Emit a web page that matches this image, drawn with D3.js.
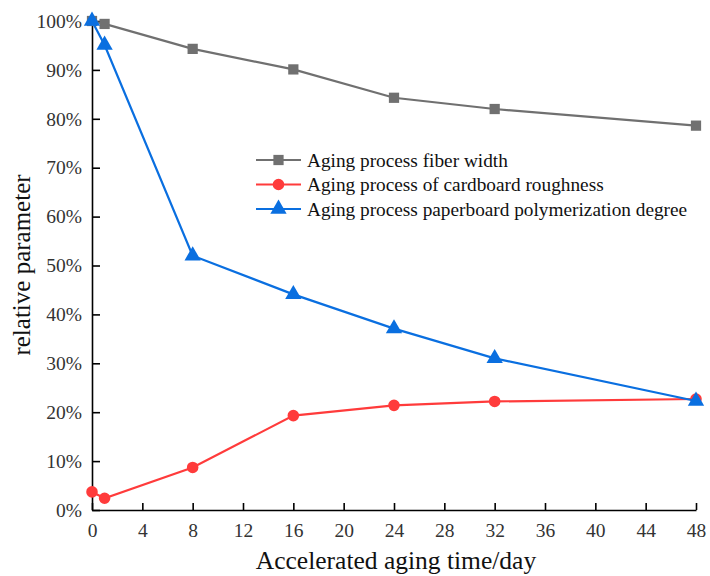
<!DOCTYPE html>
<html>
<head>
<meta charset="utf-8">
<script src="https://cdn.jsdelivr.net/npm/d3@7"></script>
<style>
  body { margin: 0; background: #fff; }
  text { font-family: "Liberation Serif", "Times New Roman", serif; }
</style>
</head>
<body>
<script>
// chart data
var days = [0, 1, 8, 16, 24, 32, 48];
var fiberWidth = [100, 99.4, 94.3, 90.1, 84.3, 82.0, 78.6];
var roughness = [3.7, 2.4, 8.7, 19.3, 21.4, 22.2, 22.7];
var polymerization = [100, 95.1, 52.0, 44.1, 37.1, 31.0, 22.3];
var seriesNames = [
  "Aging process fiber width",
  "Aging process of cardboard roughness",
  "Aging process paperboard polymerization degree"
];
var xTicks = [0, 4, 8, 12, 16, 20, 24, 28, 32, 36, 40, 44, 48];
var yTicks = [0, 10, 20, 30, 40, 50, 60, 70, 80, 90, 100];

var svgWidth = 710;
var svgHeight = 576;

var margin = { top: 21, right: 14, bottom: 66, left: 92 };
var chartWidth = 696 - margin.left;
var chartHeight = 510 - margin.top;

var svg = d3.select("body")
  .append("svg")
  .attr("width", svgWidth)
  .attr("height", svgHeight);

var chartGroup = svg.append("g")
  .attr("transform", `translate(${margin.left}, ${margin.top})`);

var xScale = d3.scaleLinear().domain([0, 48]).range([0, chartWidth]);
var yScale = d3.scaleLinear().domain([0, 100]).range([chartHeight, 0]);

// axes, ticks point inwards
var bottomAxis = d3.axisBottom(xScale).tickValues(xTicks).tickSizeInner(-7).tickSizeOuter(0).tickPadding(13);
var leftAxis = d3.axisLeft(yScale).tickValues(yTicks).tickSizeInner(-8).tickSizeOuter(0).tickPadding(10)
  .tickFormat(d => d + "%");

var gx = chartGroup.append("g")
  .attr("transform", `translate(0, ${chartHeight})`)
  .call(bottomAxis);
var gy = chartGroup.append("g").call(leftAxis);

[gx, gy].forEach(function(g) {
  g.select(".domain").attr("stroke", "#000").attr("stroke-width", 1.6);
  g.selectAll(".tick line").attr("stroke", "#000").attr("stroke-width", 1.6);
  g.selectAll(".tick text").attr("font-size", 19.5).attr("fill", "#333")
    .style("font-family", "'Liberation Serif', serif");
});

// axis titles
svg.append("text")
  .attr("x", 396)
  .attr("y", 569)
  .attr("text-anchor", "middle")
  .attr("font-size", 25.5)
  .attr("fill", "#111")
  .text("Accelerated aging time/day");

svg.append("text")
  .attr("transform", "translate(30, 265) rotate(-90)")
  .attr("text-anchor", "middle")
  .attr("font-size", 25)
  .attr("fill", "#111")
  .text("relative parameter");

var series = [
  { name: seriesNames[0], values: fiberWidth, color: "#707070", shape: "square" },
  { name: seriesNames[1], values: roughness, color: "#ff3b3b", shape: "circle" },
  { name: seriesNames[2], values: polymerization, color: "#0a6fe0", shape: "triangle" }
];

var line = d3.line()
  .x(d => xScale(d[0]))
  .y(d => yScale(d[1]));

function symbolFor(shape) {
  if (shape == "square") return d3.symbol().type(d3.symbolSquare).size(105);
  if (shape == "circle") return d3.symbol().type(d3.symbolCircle).size(105);
  return d3.symbol().type(d3.symbolTriangle).size(115);
}

series.forEach(function(s) {
  var pts = days.map((d, i) => [d, s.values[i]]);
  chartGroup.append("path")
    .datum(pts)
    .attr("fill", "none")
    .attr("stroke", s.color)
    .attr("stroke-width", 2.2)
    .attr("d", line);

  chartGroup.selectAll(null)
    .data(pts)
    .enter()
    .append("path")
    .attr("transform", d => `translate(${xScale(d[0])}, ${yScale(d[1])})`)
    .attr("d", symbolFor(s.shape)())
    .attr("fill", s.color);
});

// legend
var legend = svg.append("g").attr("transform", "translate(256, 160)");
series.forEach(function(s, i) {
  var row = legend.append("g").attr("transform", `translate(0, ${i * 24.5})`);
  row.append("line")
    .attr("x1", 0).attr("x2", 45)
    .attr("stroke", s.color).attr("stroke-width", 2.2);
  row.append("path")
    .attr("transform", "translate(22.5, 0)")
    .attr("d", symbolFor(s.shape)())
    .attr("fill", s.color);
  row.append("text")
    .attr("x", 51)
    .attr("y", 6.5)
    .attr("font-size", 19.3)
    .attr("fill", "#111")
    .text(s.name);
});
</script>
</body>
</html>
